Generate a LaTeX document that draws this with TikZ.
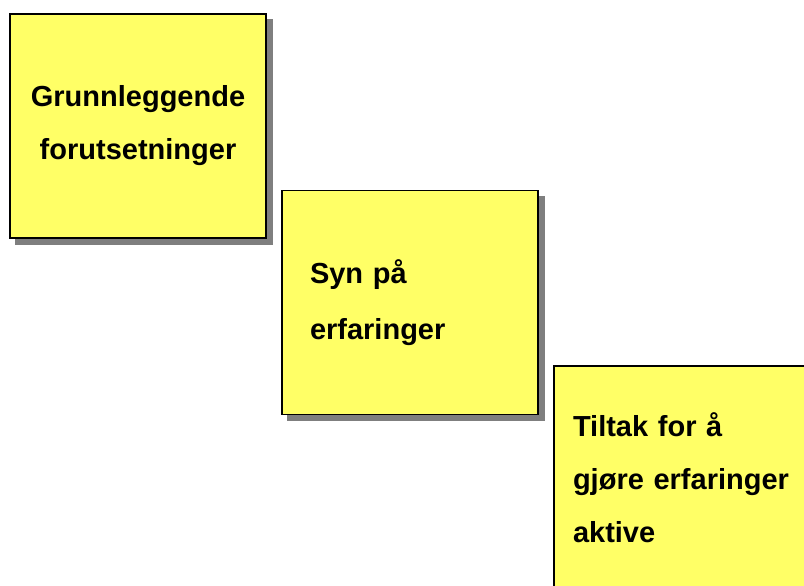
\documentclass[tikz,border=0pt]{standalone}
\usepackage{fontspec}
\setmainfont{Liberation Sans}
\usetikzlibrary{shadows}
\definecolor{noteyellow}{HTML}{FFFF66}
\definecolor{noteshadow}{HTML}{7F7F7F}

\begin{document}
\begin{tikzpicture}[
        x = 1pt,
        y = -1pt,
        note/.style={
          draw = black,
          line width = 1.8pt,
          fill = noteyellow,
          minimum width = 256pt,
          minimum height = 224pt,
          inner xsep = 19pt,
          text width = 218pt,
          font = \fontsize{29}{53}\selectfont\bfseries,
          drop shadow = {shadow xshift=6pt, shadow yshift=-6pt,
                         fill=noteshadow, draw=noteshadow, opacity=1},
        },
        ]
        \useasboundingbox (0,0) rectangle (804,586);
        \clip (0,0) rectangle (804,586);
        \node [note, align=center] (basis) at (138,126)
          {Grunnleggende\\forutsetninger};
        \node [note, align=left, inner xsep=28pt, text width=200pt,
               font=\fontsize{29}{56}\selectfont\bfseries] (syn) at (410,302.5)
          {Syn på\\erfaringer};
        \node [note, align=left] (tiltak) at (682,478)
          {Tiltak for å\\gjøre erfaringer\\aktive};
\end{tikzpicture}
\end{document}
